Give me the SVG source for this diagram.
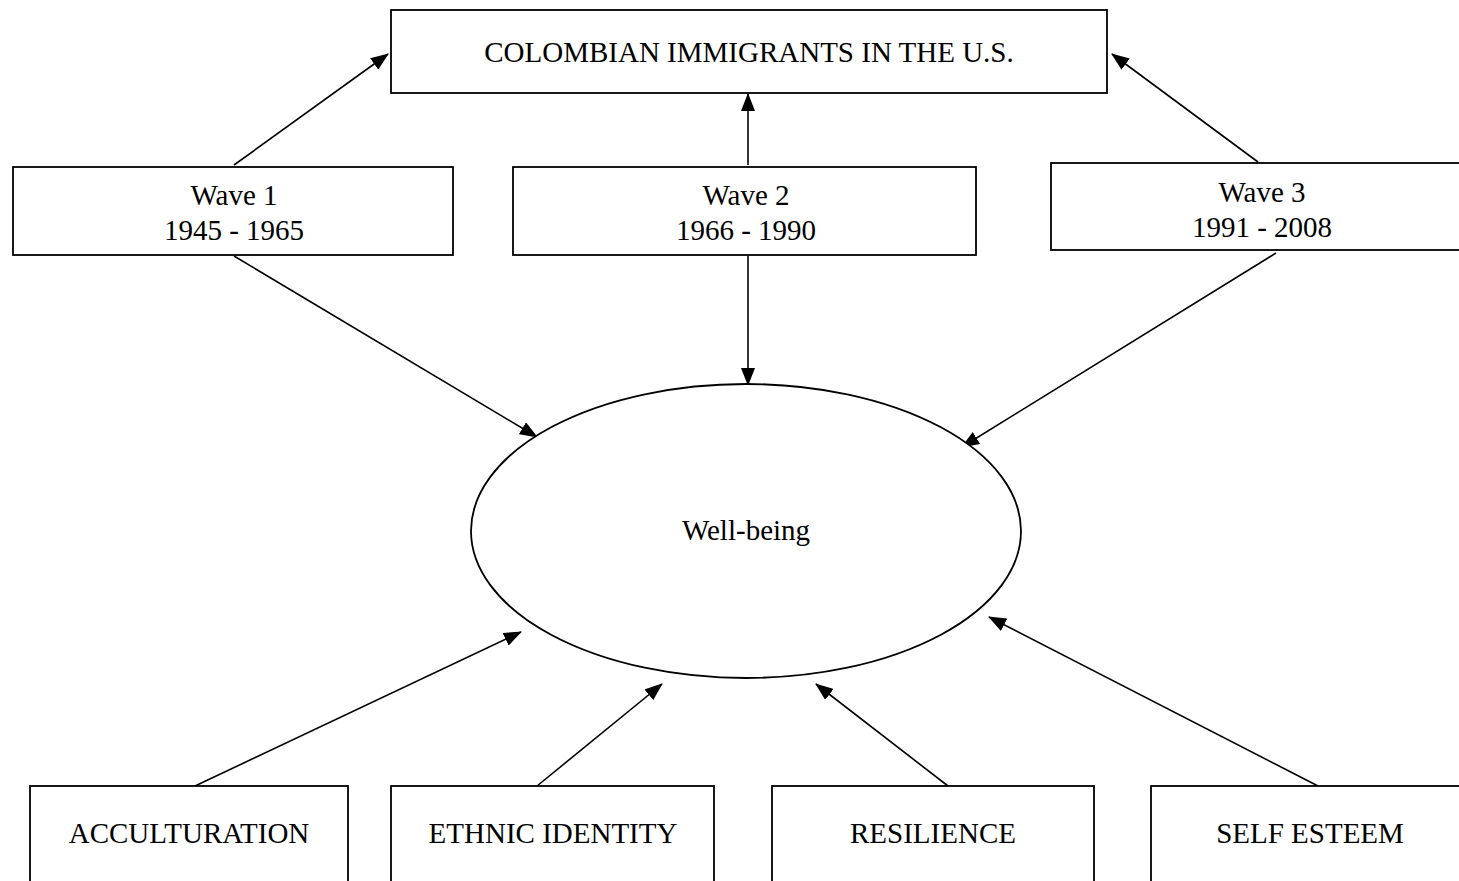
<svg xmlns="http://www.w3.org/2000/svg" width="1459" height="881" viewBox="0 0 1459 881">
<style>
.box{fill:#fff;stroke:#000;stroke-width:1.8}
.t{font-family:"Liberation Serif","Times New Roman",serif;font-size:29px;fill:#000;text-anchor:middle}
.c{stroke:#000;stroke-width:1.6;fill:none;marker-end:url(#ah)}
</style>
<defs>
<marker id="ah" markerWidth="18" markerHeight="14" refX="17" refY="7" orient="auto" markerUnits="userSpaceOnUse">
<path d="M0,0 L18,7 L0,14 Z" fill="#000"/>
</marker>
</defs>
<rect width="1459" height="881" fill="#fff"/>
<g id="connectors">
<line class="c" x1="234" y1="165" x2="388" y2="54"/>
<line class="c" x1="748" y1="165" x2="748" y2="94"/>
<line class="c" x1="1258" y1="162" x2="1112" y2="54"/>
<line class="c" x1="234" y1="256" x2="537" y2="437"/>
<line class="c" x1="748" y1="256" x2="748" y2="385"/>
<line class="c" x1="1276" y1="253" x2="962" y2="447"/>
<line class="c" x1="195" y1="786" x2="521" y2="632"/>
<line class="c" x1="537" y1="786" x2="662" y2="684"/>
<line class="c" x1="948" y1="786" x2="816" y2="684"/>
<line class="c" x1="1318" y1="786" x2="989" y2="617"/>
</g>
<g id="colombian">
<rect class="box" x="391" y="10" width="716" height="83"/>
<text class="t" x="749" y="62">COLOMBIAN IMMIGRANTS IN THE U.S.</text>
</g>
<g id="wave1">
<rect class="box" x="13" y="167" width="440" height="88"/>
<text class="t" x="234" y="205">Wave 1</text>
<text class="t" x="234" y="240">1945 - 1965</text>
</g>
<g id="wave2">
<rect class="box" x="513" y="167" width="463" height="88"/>
<text class="t" x="746" y="205">Wave 2</text>
<text class="t" x="746" y="240">1966 - 1990</text>
</g>
<g id="wave3">
<rect class="box" x="1051" y="163" width="420" height="87"/>
<text class="t" x="1262" y="202">Wave 3</text>
<text class="t" x="1262" y="237">1991 - 2008</text>
</g>
<g id="wellbeing">
<ellipse class="box" cx="746" cy="531" rx="275" ry="147"/>
<text class="t" x="746" y="540">Well-being</text>
</g>
<g id="acculturation">
<rect class="box" x="30" y="786" width="318" height="110"/>
<text class="t" x="189" y="843">ACCULTURATION</text>
</g>
<g id="ethnic">
<rect class="box" x="391" y="786" width="323" height="110"/>
<text class="t" x="553" y="843">ETHNIC IDENTITY</text>
</g>
<g id="resilience">
<rect class="box" x="772" y="786" width="322" height="110"/>
<text class="t" x="933" y="843">RESILIENCE</text>
</g>
<g id="selfesteem">
<rect class="box" x="1151" y="786" width="320" height="110"/>
<text class="t" x="1310" y="843">SELF ESTEEM</text>
</g>
</svg>
